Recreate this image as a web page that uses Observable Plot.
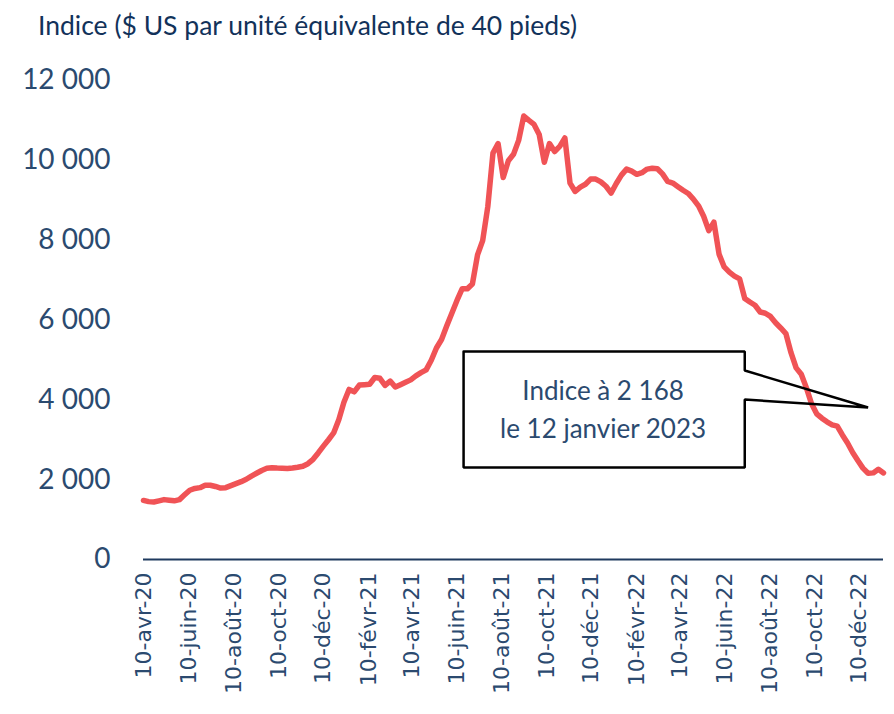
<!DOCTYPE html>
<html><head><meta charset="utf-8">
<script src="https://cdn.jsdelivr.net/npm/d3@7"></script>
<script src="https://cdn.jsdelivr.net/npm/@observablehq/plot@0.6"></script>
<style>
body{margin:0;background:#fff;}
#wrap{position:relative;width:894px;height:714px;overflow:hidden;background:#fff;}
#title{position:absolute;left:38px;top:9px;font-family:Lato,sans-serif;font-size:26.5px;line-height:32px;color:#12325A;white-space:nowrap;}
#chart{position:absolute;left:0;top:0;}
</style></head><body>
<div id="wrap"><div id="chart"></div><div id="title">Indice ($ US par unité équivalente de 40 pieds)</div></div>
<script>
// Weekly index values (US$ per 40-ft container), first week starting at startDate
const startDate = "2020-04-09";
const values = [
  1480,1450,1440,1470,1500,1485,1470,1500,1620,1735,
  1780,1800,1860,1860,1830,1790,1800,1850,1900,1950,
  2010,2090,2160,2230,2285,2300,2290,2285,2280,2290,
  2310,2335,2400,2510,2670,2840,3000,3170,3500,3940,
  4260,4200,4370,4380,4390,4560,4540,4360,4470,4320,
  4380,4440,4500,4600,4680,4750,4990,5300,5510,5850,
  6170,6490,6780,6780,6900,7630,7990,8840,10180,10420,
  9570,9990,10150,10500,11110,11000,10900,10650,9950,10420,
  10220,10350,10560,9430,9220,9330,9400,9530,9530,9460,
  9350,9180,9420,9630,9780,9730,9650,9690,9780,9800,
  9790,9660,9470,9430,9340,9250,9170,9030,8860,8600,
  8240,8450,7650,7330,7200,7100,7030,6540,6450,6370,
  6200,6170,6090,5930,5800,5660,5180,4800,4640,4300,
  3900,3650,3540,3450,3375,3340,3120,2920,2680,2480,
  2290,2160,2170,2260,2168
];
const tickDates = ["2020-04-10","2020-06-10","2020-08-10","2020-10-10","2020-12-10",
  "2021-02-10","2021-04-10","2021-06-10","2021-08-10","2021-10-10","2021-12-10",
  "2022-02-10","2022-04-10","2022-06-10","2022-08-10","2022-10-10","2022-12-10"];
const tickLabels = ["10-avr-20","10-juin-20","10-août-20","10-oct-20","10-déc-20",
  "10-févr-21","10-avr-21","10-juin-21","10-août-21","10-oct-21","10-déc-21",
  "10-févr-22","10-avr-22","10-juin-22","10-août-22","10-oct-22","10-déc-22"];
const yTicks = [0,2000,4000,6000,8000,10000,12000];
const annotationLines = ["Indice à 2 168","le 12 janvier 2023"];
// callout outline, in data space (date, index value)
const calloutDates = ["2021-06-19","2022-07-07","2022-07-07","2022-12-22","2022-07-07","2022-07-07","2021-06-19","2021-06-19"];
const calloutValues = [5210,5210,4734,3808,4008,2305,2305,5210];
const annotationDate = "2021-12-26";
const annotationValues = [4200,3260];

const data = values.map((v,i)=>({date: d3.utcDay.offset(new Date(startDate), 7*i), value: v}));
const labelByTime = new Map(tickDates.map((d,i)=>[+new Date(d), tickLabels[i]]));
const callout = calloutDates.map((d,i)=>({date:new Date(d), value:calloutValues[i]}));
const notes = annotationLines.map((t,i)=>({date:new Date(annotationDate), value:annotationValues[i], text:t}));
const fmt = d => d3.format(",")(d).replace(/,/g, "\u00a0");

const chart = Plot.plot({
  width: 894, height: 714,
  marginTop: 80, marginBottom: 155, marginLeft: 143, marginRight: 11,
  style: {background: "transparent", fontFamily: "Lato, sans-serif", color: "#2B4A6F", overflow: "visible"},
  x: {type: "utc", domain: [data[0].date, data[data.length-1].date]},
  y: {domain: [0, 12000]},
  marks: [
    Plot.axisY({ticks: yTicks, tickSize: 0, tickPadding: 33, tickFormat: fmt, fontSize: 28, fill: "#2B4A6F", label: null}),
    Plot.axisX({ticks: tickDates.map(d=>new Date(d)), tickFormat: d => labelByTime.get(+d), tickRotate: -90,
      tickSize: 0, tickPadding: 13, fontSize: 22, fontFamily: "DejaVu Sans, sans-serif", fill: "#2B4A6F", label: null}),
    Plot.ruleY([0], {stroke: "#1F3A5F", strokeWidth: 2}),
    Plot.line(data, {x: "date", y: "value", stroke: "#F05356", strokeWidth: 5.5, strokeLinejoin: "round", strokeLinecap: "round"}),
    Plot.line(callout, {x: "date", y: "value", stroke: "#000", strokeWidth: 2.5, strokeLinejoin: "miter"}),
    Plot.text(notes, {x: "date", y: "value", text: "text", fontSize: 26, fill: "#2B4A6F", fontFamily: "Lato, sans-serif"})
  ]
});
document.getElementById("chart").appendChild(chart);
</script>
</body></html>
